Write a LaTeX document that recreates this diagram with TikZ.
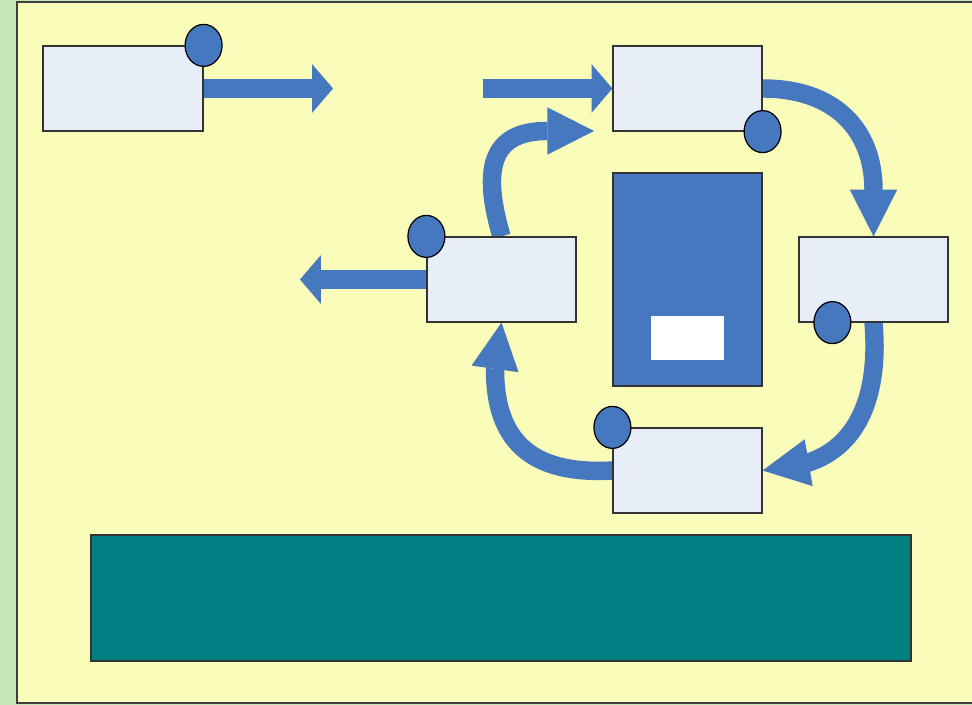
\documentclass[tikz,border=0pt]{standalone}
\usepackage{tikz}
\usetikzlibrary{shapes.geometric, arrows.meta}

\definecolor{stripgreen}{RGB}{197,230,181}
\definecolor{panelyellow}{RGB}{250,252,186}
\definecolor{boxblue}{RGB}{231,238,248}
\definecolor{flowblue}{RGB}{70,120,191}
\definecolor{footteal}{RGB}{0,128,128}

\pgfdeclarelayer{panel}
\pgfdeclarelayer{flows}
\pgfsetlayers{panel,flows,main}

\begin{document}
\begin{tikzpicture}[
  x=0.02cm, y=-0.02cm,
  mybox/.style={
     rectangle,
     draw=black!80,
     fill=boxblue,
     line width=0.7pt,
     inner sep=0pt,
     minimum width=2.98cm,
     minimum height=1.7cm},
  mydot/.style={
     ellipse,
     draw=black,
     fill=flowblue,
     line width=0.7pt,
     inner sep=0pt,
     minimum width=0.74cm,
     minimum height=0.84cm},
  myflow/.style={
     draw=flowblue,
     line width=10.5pt,
     -{Triangle[length=26.6pt,width=27pt,line width=0pt]}},
  mystraight/.style={
     draw=flowblue,
     line width=10.5pt,
     -{Triangle[length=11.9pt,width=27.8pt,line width=0pt]}}
  ]
  \useasboundingbox (0,0) rectangle (972,705);

  \begin{pgfonlayer}{panel}
    \fill[stripgreen] (0,0) rectangle (972,705);
    \draw[fill=panelyellow, draw=black!75, line width=0.7pt] (17,2) rectangle (990,703);
  \end{pgfonlayer}

  % steps
  \node[mybox, minimum width=3.2cm] (start) at (123,88.5) {};
  \node[mybox] (top)    at (687.5,88.5)  {};
  \node[mybox] (right)  at (873.5,279.5) {};
  \node[mybox] (bottom) at (687.5,470.5) {};
  \node[mybox] (left)   at (501.5,279.5) {};

  % centre block and footer
  \node[rectangle, draw=black!80, fill=flowblue, line width=0.7pt, inner sep=0pt,
        minimum width=2.98cm, minimum height=4.26cm] (core) at (687.5,279.5) {};
  \node[fill=white, inner sep=0pt, minimum width=1.46cm, minimum height=0.88cm] (tag) at (687.5,338) {};
  \node[rectangle, draw=black!80, fill=footteal, line width=0.7pt, inner sep=0pt,
        minimum width=16.4cm, minimum height=2.52cm] (footer) at (501,598) {};

  % loose ends
  \coordinate (out)  at (333,88.5);
  \coordinate (in)   at (483,88.5);
  \coordinate (exit) at (300,279.5);
  \coordinate (back) at (594,131);

% edges
\begin{pgfonlayer}{flows}
\draw [mystraight] (start.east) -- (out);
\draw [mystraight] (in) -- (top.west);
\draw [mystraight] (left.west) -- (exit);

\draw [myflow] (top.east) .. controls (835,88.5) and (873.5,130) .. (873.5,190) -- (right.north);
\draw [myflow] (right.south) .. controls (880,400) and (855,448) .. (807,463) -- (bottom.east);
\draw [myflow] (bottom.west) .. controls (530,475) and (495,440) .. (495,369) -- (left.south);
\draw [myflow] (left.north) .. controls (482,170) and (490,131) .. (547,131) -- (back);
\end{pgfonlayer}

  % markers
  \node[mydot] (m1) at (start.north east) {};
  \node[mydot] (m2) at (top.south east) {};
  \node[mydot] (m3) at ([xshift=0.68cm]right.south west) {};
  \node[mydot] (m4) at (bottom.north west) {};
  \node[mydot] (m5) at (left.north west) {};

\end{tikzpicture}
\end{document}
